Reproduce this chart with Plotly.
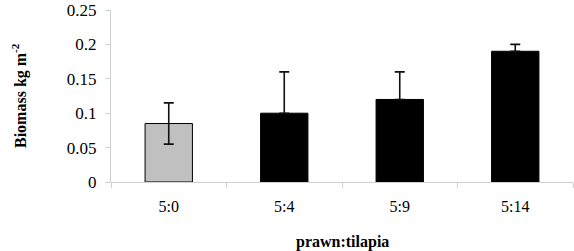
import plotly.graph_objects as go

categories = ["5:0", "5:4", "5:9", "5:14"]
biomass = [0.085, 0.10, 0.12, 0.19]
errors_up = [0.03, 0.06, 0.04, 0.01]
errors_down = [0.03, 0.0, 0.0, 0.0]
bar_colors = ["#c0c0c0", "#000000", "#000000", "#000000"]

y_ticks = [0, 0.05, 0.1, 0.15, 0.2, 0.25]
y_ticktext = ["0", "0.05", "0.1", "0.15", "0.2", "0.25"]

fig = go.Figure(go.Bar(
    x=categories, y=biomass,
    marker=dict(color=bar_colors, line=dict(color="#000000", width=1)),
    error_y=dict(type="data", symmetric=False, array=errors_up,
                 arrayminus=errors_down, visible=True,
                 color="#111111", thickness=1.6, width=5),
    width=0.41,
))

font_family = "Liberation Serif, Times New Roman, serif"
fig.update_layout(
    width=574, height=251,
    margin=dict(l=111, r=1, t=10, b=69, autoexpand=False),
    plot_bgcolor="white", paper_bgcolor="white",
    showlegend=False,
    font=dict(family=font_family, size=16, color="#000000"),
    xaxis=dict(
        showline=True, linecolor="#d0d0d0", linewidth=1,
        ticks="outside", tickson="boundaries", ticklen=5, tickcolor="#d0d0d0",
        showgrid=False, automargin=False,
        ticklabelstandoff=10,
        tickfont=dict(family=font_family, size=16),
    ),
    yaxis=dict(
        range=[0, 0.25],
        tickvals=y_ticks, ticktext=y_ticktext,
        showline=True, linecolor="#d0d0d0", linewidth=1,
        ticks="outside", ticklen=5, tickcolor="#d0d0d0",
        showgrid=False, zeroline=False, automargin=False,
        ticklabelstandoff=5,
        tickfont=dict(family=font_family, size=17),
    ),
    annotations=[
        dict(text="<b>prawn:tilapia</b>", xref="paper", yref="paper",
             x=0.5, y=0, yshift=-60, xanchor="center", yanchor="middle",
             showarrow=False, font=dict(family=font_family, size=16)),
        dict(text="<b>Biomass kg m<sup>-2</sup></b>", xref="paper", yref="paper",
             x=0, y=0.5, xshift=-92, xanchor="center", yanchor="middle",
             textangle=-90, showarrow=False,
             font=dict(family=font_family, size=16)),
    ],
)

fig.write_html("out.html", config={"displayModeBar": False},
               post_script="document.body.style.margin='0';")
